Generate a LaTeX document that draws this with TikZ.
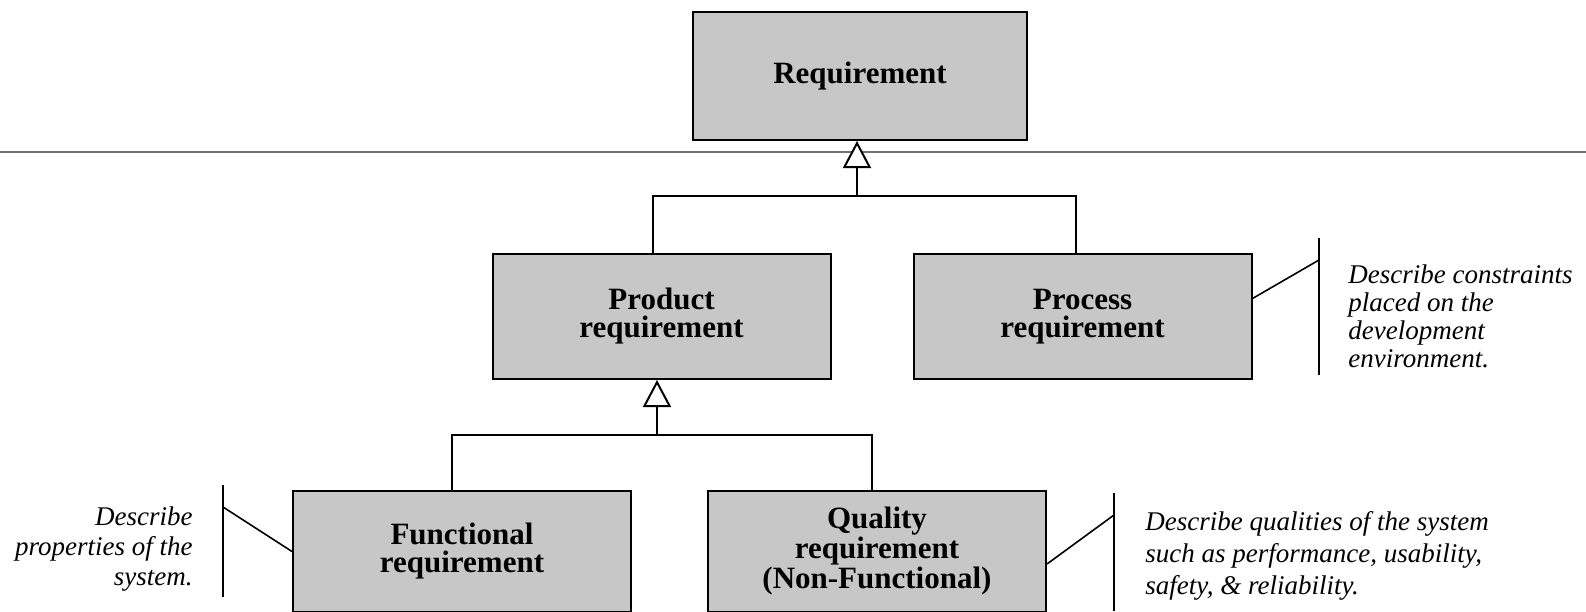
\documentclass[tikz,border=0pt]{standalone}
\usepackage{fontspec}
\setmainfont{Liberation Serif}
\usetikzlibrary{arrows.meta,calc,positioning}
\tikzstyle{block} = [rectangle, draw, line width=1pt, fill=black!22, align=center,
minimum width=169pt, minimum height=62.5pt, inner sep=0pt,
font=\bfseries\fontsize{15.5}{14}\selectfont]
\tikzstyle{note} = [inner sep=0pt, font=\itshape\fontsize{13.5}{14}\selectfont]
\tikzstyle{line} = [draw, line width=1pt]
\tikzstyle{leader} = [draw, line width=0.8pt]
\tikzstyle{inherit} = [draw, line width=1pt, -{Triangle[length=13.5pt, width=14pt, fill=white]}]
\tikzstyle{separator} = [draw, line width=0.6pt, black!55]

\begin{document}
\begin{tikzpicture}[x=0.5pt, y=-0.5pt]
\useasboundingbox (0,0) rectangle (1586,611);

\node [block, minimum width=167pt, minimum height=64pt] (req) at (860,76) {Requirement};
\node [block, below = 56pt of req, xshift=-99.25pt] (product) {Product\\requirement};
\node [block, right = 40.5pt of product] (process) {Process\\requirement};
\node [block, minimum height=60.5pt, below = 55pt of product, xshift=-99.75pt] (functional) {Functional\\requirement};
\node [block, minimum height=60.5pt, right = 37.5pt of functional,
  font=\bfseries\fontsize{15.5}{15}\selectfont] (quality) {Quality\\requirement\\(Non-Functional)};

% notes (anchored at the baseline of their last line)
\node [note, align=left, anchor=base west] (pnote) at (1348,367) {Describe constraints\\placed on the\\development\\environment.};
\node [note, align=right, anchor=base east, font=\itshape\fontsize{13.5}{15}\selectfont] (fnote) at (193,585) {Describe\\properties of the\\system.};
\node [note, align=left, anchor=base west, font=\itshape\fontsize{13.5}{16}\selectfont] (qnote) at (1145,594) {Describe qualities of the system\\such as performance, usability,\\safety, \& reliability.};

\coordinate (sepl) at (0,152);
\coordinate (sepr) at (1586,152);
\path [separator] (sepl) -- (sepr);

\coordinate (j1) at ($(req.south)+(-3,55)$);
\coordinate (j2) at ($(product.south)+(-4.5,55)$);
\path [line] ($(product.north)+(-8.5,0)$) |- (j1) -| ($(process.north)+(-6.5,0)$);
\path [line] ($(functional.north)+(-10,0)$) |- (j2) -| ($(quality.north)+(-5,0)$);
\path [inherit] (j1) -- (j1 |- req.south);
\path [inherit] (j2) -- (j2 |- product.south);

\coordinate (pbart) at (1319,238);
\coordinate (pbarb) at (1319,375);
\coordinate (fbart) at (223,485);
\coordinate (fbarb) at (223,597);
\coordinate (qbart) at (1114,493);
\coordinate (qbarb) at (1114,611);
\path [line] (pbart) -- (pbarb);
\path [line] (fbart) -- (fbarb);
\path [line] (qbart) -- (qbarb);
\path [leader] ($(process.east)+(0,-18)$) -- (pbart |- 0,260);
\path [leader] (functional.west) -- (fbart |- 0,507);
\path [leader] ($(quality.east)+(0,12.5)$) -- (qbart |- 0,515);
\end{tikzpicture}
\end{document}
